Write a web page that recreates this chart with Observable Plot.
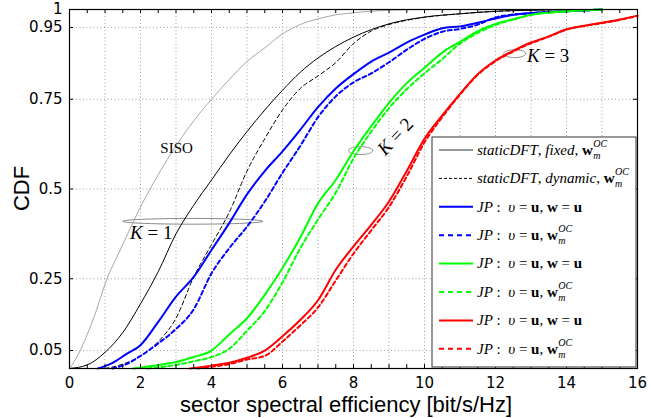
<!DOCTYPE html>
<html>
<head>
<meta charset="utf-8">
<script src="https://cdn.jsdelivr.net/npm/d3@7"></script>
<script src="https://cdn.jsdelivr.net/npm/@observablehq/plot@0.6"></script>
<style>
  html, body { margin: 0; padding: 0; background: #fff; }
  #chart { position: relative; width: 651px; height: 418px; }
</style>
</head>
<body>
<div id="chart"></div>
<script>
// ---- tick data ----
const xTicks = [0, 2, 4, 6, 8, 10, 12, 14, 16];
const xGrid = [1, 2, 3, 4, 5, 6, 7, 8, 9, 10, 11, 12, 13, 14, 15];
const xMinor = [0.5, 1, 1.5, 2, 2.5, 3, 3.5, 4, 4.5, 5, 5.5, 6, 6.5, 7, 7.5, 8, 8.5, 9, 9.5, 10, 10.5, 11, 11.5, 12, 12.5, 13, 13.5, 14, 14.5, 15, 15.5];
const yTicks = [0.05, 0.25, 0.5, 0.75, 0.95, 1];
const yTickLabels = ["0.05", "0.25", "0.5", "0.75", "0.95", "1"];
const yGrid = [0.05, 0.25, 0.5, 0.75, 0.95];

// ---- series ----
const sisoX = [0, 0.25, 0.5, 0.75, 1, 1.5, 2, 2.5, 3, 3.5, 4, 4.5, 5, 5.5, 6, 6.5, 7, 7.5, 8, 9, 10];
const sisoY = [0, 0.04, 0.095, 0.16, 0.235, 0.345, 0.45, 0.54, 0.62, 0.69, 0.75, 0.805, 0.855, 0.893, 0.932, 0.958, 0.974, 0.985, 0.991, 0.998, 1];

const fixedX = [0, 0.5, 1, 1.5, 2, 2.5, 3, 3.5, 4, 4.5, 5, 5.5, 6, 6.5, 7, 7.5, 8, 9, 10, 11, 12, 13, 14];
const fixedY = [0, 0.01, 0.045, 0.1, 0.18, 0.27, 0.375, 0.455, 0.525, 0.595, 0.66, 0.72, 0.775, 0.825, 0.865, 0.897, 0.923, 0.96, 0.979, 0.988, 0.995, 0.998, 1];

const dynX = [1, 1.5, 2, 2.5, 3, 3.5, 4, 4.5, 5, 5.5, 6, 6.5, 7, 7.5, 8, 8.5, 9, 10, 11, 12, 13, 14];
const dynY = [0, 0.012, 0.035, 0.075, 0.14, 0.255, 0.345, 0.435, 0.55, 0.64, 0.72, 0.78, 0.815, 0.852, 0.905, 0.94, 0.958, 0.978, 0.988, 0.995, 0.998, 1];

const k1uX = [0.8, 1.2, 1.6, 2, 2.5, 3, 3.5, 4, 4.5, 5, 5.5, 6, 6.5, 7, 7.5, 8, 8.5, 9, 9.5, 10, 10.5, 11, 11.5, 12, 12.5, 13, 14, 15];
const k1uY = [0, 0.015, 0.04, 0.065, 0.13, 0.2, 0.255, 0.33, 0.405, 0.485, 0.55, 0.605, 0.665, 0.728, 0.78, 0.82, 0.855, 0.88, 0.908, 0.93, 0.948, 0.953, 0.963, 0.975, 0.985, 0.99, 0.995, 1];

const k1ocX = [1.2, 1.6, 2, 2.5, 3, 3.5, 4, 4.5, 5, 5.5, 6, 6.5, 7, 7.5, 8, 8.5, 9, 9.5, 10, 10.5, 11, 11.5, 12, 12.5, 13, 14, 15];
const k1ocY = [0, 0.012, 0.035, 0.07, 0.11, 0.165, 0.265, 0.335, 0.395, 0.465, 0.545, 0.62, 0.7, 0.758, 0.797, 0.822, 0.853, 0.888, 0.918, 0.938, 0.946, 0.958, 0.978, 0.986, 0.99, 0.995, 1];

const k2uX = [1.8, 2.5, 3, 3.5, 4, 4.5, 5, 5.5, 6, 6.5, 7, 7.5, 8, 8.5, 9, 9.5, 10, 10.5, 11, 11.5, 12, 12.5, 13, 14, 15];
const k2uY = [0, 0.01, 0.018, 0.032, 0.05, 0.095, 0.14, 0.205, 0.28, 0.365, 0.46, 0.525, 0.605, 0.675, 0.74, 0.795, 0.838, 0.88, 0.91, 0.94, 0.96, 0.973, 0.985, 0.995, 1];

const k2ocX = [2.2, 3, 3.5, 4, 4.5, 5, 5.5, 6, 6.5, 7, 7.5, 8, 8.5, 9, 9.5, 10, 10.5, 11, 11.5, 12, 12.5, 13, 14, 15];
const k2ocY = [0, 0.01, 0.02, 0.032, 0.055, 0.105, 0.16, 0.24, 0.335, 0.415, 0.49, 0.585, 0.66, 0.725, 0.778, 0.822, 0.862, 0.905, 0.935, 0.957, 0.972, 0.985, 0.995, 1];

const k3uX = [3.4, 4, 4.5, 5, 5.5, 6, 6.5, 7, 7.5, 8, 8.5, 9, 9.5, 10, 10.5, 11, 11.5, 12, 12.5, 13, 13.5, 14, 14.5, 15, 15.5, 16];
const k3uY = [0, 0.008, 0.016, 0.03, 0.05, 0.09, 0.135, 0.19, 0.275, 0.34, 0.4, 0.465, 0.55, 0.64, 0.705, 0.765, 0.82, 0.858, 0.885, 0.908, 0.925, 0.945, 0.955, 0.963, 0.972, 0.983];

const k3ocX = [3.6, 4, 4.5, 5, 5.5, 6, 6.5, 7, 7.5, 8, 8.5, 9, 9.5, 10, 10.5, 11, 11.5, 12, 12.5, 13, 13.5, 14, 14.5, 15, 15.5, 16];
const k3ocY = [0, 0.005, 0.012, 0.025, 0.035, 0.075, 0.12, 0.17, 0.245, 0.32, 0.385, 0.45, 0.535, 0.63, 0.7, 0.763, 0.818, 0.856, 0.883, 0.906, 0.924, 0.944, 0.954, 0.962, 0.971, 0.982];

// ---- annotations (data coordinates) ----
const ellipseCenters = [[3.47, 0.41], [8.2, 0.607], [12.54, 0.877]];
const ellipseRadii = [[1.97, 0.008], [0.34, 0.011], [0.31, 0.011]];
const sisoLabel = { x: 3.03, y: 0.614, text: "SISO" };
const kLabels = [
  { x: 1.72, y: 0.378, k: "1", anchor: "start", rotate: 0 },
  { x: 9.18, y: 0.646, k: "2", anchor: "middle", rotate: -47 },
  { x: 12.9, y: 0.872, k: "3", anchor: "start", rotate: 0 }
];

const legendItems = [
  { color: "#333", dash: null, width: 1, parts: [["staticDFT", "i"], [", ", "r"], ["fixed", "i"], [", ", "r"], ["w", "b"]], oc: true },
  { color: "#000", dash: "3,2", width: 1, parts: [["staticDFT", "i"], [", ", "r"], ["dynamic", "i"], [", ", "r"], ["w", "b"]], oc: true },
  { color: "#0000ff", dash: null, width: 2, parts: [["JP", "i"], [" :  ", "r"], ["υ", "i"], [" = ", "r"], ["u", "b"], [", ", "r"], ["w", "b"], [" = ", "r"], ["u", "b"]], oc: false },
  { color: "#0000ff", dash: "5,4", width: 2, parts: [["JP", "i"], [" :  ", "r"], ["υ", "i"], [" = ", "r"], ["u", "b"], [", ", "r"], ["w", "b"]], oc: true },
  { color: "#00ff00", dash: null, width: 2, parts: [["JP", "i"], [" :  ", "r"], ["υ", "i"], [" = ", "r"], ["u", "b"], [", ", "r"], ["w", "b"], [" = ", "r"], ["u", "b"]], oc: false },
  { color: "#00ff00", dash: "5,4", width: 2, parts: [["JP", "i"], [" :  ", "r"], ["υ", "i"], [" = ", "r"], ["u", "b"], [", ", "r"], ["w", "b"]], oc: true },
  { color: "#ff0000", dash: null, width: 2, parts: [["JP", "i"], [" :  ", "r"], ["υ", "i"], [" = ", "r"], ["u", "b"], [", ", "r"], ["w", "b"], [" = ", "r"], ["u", "b"]], oc: false },
  { color: "#ff0000", dash: "5,4", width: 2, parts: [["JP", "i"], [" :  ", "r"], ["υ", "i"], [" = ", "r"], ["u", "b"], [", ", "r"], ["w", "b"]], oc: true }
];

const toPts = (xs, ys) => xs.map((x, i) => ({ x, y: ys[i] }));
const ellipsePts = (c, r) => d3.range(0, 61).map(i => {
  const t = (i / 60) * 2 * Math.PI;
  return { x: c[0] + r[0] * Math.cos(t), y: c[1] + r[1] * Math.sin(t) };
});

const W = 651, H = 418;
const grid = { stroke: "#8c8c8c", strokeWidth: 0.8, strokeDasharray: "1,2.5" };
const tickLenX = 4 / 359, tickLenY = 4 / 35.5;
const C = "monotone-x";

const plot = Plot.plot({
  width: W, height: H,
  marginLeft: 69, marginRight: 14, marginTop: 9, marginBottom: 50,
  style: { fontFamily: "'DejaVu Sans', sans-serif", fontSize: "15px", background: "#fff", color: "#000" },
  x: { domain: [0, 16], ticks: xTicks, tickSize: 0, tickPadding: 9, tickFormat: d => String(d), label: null },
  y: { domain: [0, 1], ticks: yTicks, tickSize: 0, tickPadding: 7, tickFormat: d => yTickLabels[yTicks.indexOf(d)], label: null },
  marks: [
    Plot.ruleX(xGrid, { ...grid }),
    Plot.ruleY(yGrid, { ...grid }),
    ...ellipseCenters.map((c, i) => Plot.line(ellipsePts(c, ellipseRadii[i]), { x: "x", y: "y", stroke: "#8a8a8a", strokeWidth: 1 })),
    Plot.line(toPts(sisoX, sisoY), { x: "x", y: "y", stroke: "#a8a8a8", strokeWidth: 1, curve: C }),
    Plot.line(toPts(fixedX, fixedY), { x: "x", y: "y", stroke: "#000", strokeWidth: 1, curve: C }),
    Plot.line(toPts(dynX, dynY), { x: "x", y: "y", stroke: "#000", strokeWidth: 1, strokeDasharray: "4,3", curve: C }),
    Plot.line(toPts(k1uX, k1uY), { x: "x", y: "y", stroke: "#0000ff", strokeWidth: 2, curve: C }),
    Plot.line(toPts(k1ocX, k1ocY), { x: "x", y: "y", stroke: "#0000ff", strokeWidth: 2, strokeDasharray: "4,3", curve: C }),
    Plot.line(toPts(k2uX, k2uY), { x: "x", y: "y", stroke: "#00ff00", strokeWidth: 2, curve: C }),
    Plot.line(toPts(k2ocX, k2ocY), { x: "x", y: "y", stroke: "#00ff00", strokeWidth: 2, strokeDasharray: "4,3", curve: C }),
    Plot.line(toPts(k3uX, k3uY), { x: "x", y: "y", stroke: "#ff0000", strokeWidth: 2, curve: C }),
    Plot.line(toPts(k3ocX, k3ocY), { x: "x", y: "y", stroke: "#ff0000", strokeWidth: 2, strokeDasharray: "4,3", curve: C }),
    Plot.ruleX(xMinor, { y1: 0, y2: tickLenX, stroke: "#000" }),
    Plot.ruleX(xMinor, { y1: 1, y2: 1 - tickLenX, stroke: "#000" }),
    Plot.ruleY(yGrid, { x1: 0, x2: tickLenY, stroke: "#000" }),
    Plot.ruleY(yGrid, { x1: 16, x2: 16 - tickLenY, stroke: "#000" }),
    Plot.frame({ stroke: "#000", strokeWidth: 1.2 })
  ]
});

document.getElementById("chart").appendChild(plot);

const svg = d3.select(plot);
const sx = plot.scale("x"), sy = plot.scale("y");
const X = v => sx.apply(v), Y = v => sy.apply(v);
const serif = "'Liberation Serif', 'DejaVu Serif', serif";
const sans = "'Liberation Sans', Arial, sans-serif";

// SISO label
svg.append("text").attr("x", X(sisoLabel.x)).attr("y", Y(sisoLabel.y)).attr("dy", "0.35em")
  .attr("text-anchor", "middle").attr("font-family", serif).attr("font-size", 15).text(sisoLabel.text);

// K labels
kLabels.forEach(k => {
  const t = svg.append("text")
    .attr("transform", `translate(${X(k.x)},${Y(k.y)}) rotate(${k.rotate})`)
    .attr("dy", "0.35em").attr("text-anchor", k.anchor)
    .attr("font-family", serif).attr("font-size", 19);
  t.append("tspan").attr("font-style", "italic").text("K");
  t.append("tspan").text(" = " + k.k);
});

// axis titles
svg.append("text").attr("x", (X(0) + X(16)) / 2 - 7).attr("y", 412).attr("text-anchor", "middle")
  .attr("font-family", sans).attr("font-size", 22)
  .text("sector spectral efficiency [bit/s/Hz]");
svg.append("text").attr("transform", `translate(29,${(Y(0) + Y(1)) / 2}) rotate(-90)`)
  .attr("text-anchor", "middle").attr("font-family", sans).attr("font-size", 22)
  .text("CDF");

// legend
const lg = svg.append("g").attr("text-anchor", "start");
const LX0 = 432, LY0 = 137, LX1 = 636, LY1 = 367;
lg.append("rect").attr("x", LX0).attr("y", LY0).attr("width", LX1 - LX0).attr("height", LY1 - LY0)
  .attr("fill", "#fff").attr("stroke", "#333").attr("stroke-width", 1);
legendItems.forEach((it, i) => {
  const cy = 150 + i * 28.4;
  lg.append("line").attr("x1", 439).attr("x2", 473).attr("y1", cy).attr("y2", cy)
    .attr("stroke", it.color).attr("stroke-width", it.width)
    .attr("stroke-dasharray", it.dash);
  const t = lg.append("text").attr("x", 477).attr("y", cy).attr("dy", "0.32em")
    .attr("text-anchor", "start").attr("font-family", serif).attr("font-size", 15)
    .style("white-space", "pre");
  it.parts.forEach(([s, st]) => {
    const sp = t.append("tspan").text(s);
    if (st === "i") sp.attr("font-style", "italic");
    if (st === "b") sp.attr("font-weight", "bold");
  });
  if (it.oc) {
    const len = t.node().getComputedTextLength();
    lg.append("text").attr("x", 477 + len + 0.5).attr("y", cy - 3).attr("text-anchor", "start")
      .attr("font-family", serif).attr("font-size", 10).attr("font-style", "italic").text("OC");
    lg.append("text").attr("x", 477 + len + 0.5).attr("y", cy + 9).attr("text-anchor", "start")
      .attr("font-family", serif).attr("font-size", 10).attr("font-style", "italic").text("m");
  }
});
</script>
</body>
</html>
